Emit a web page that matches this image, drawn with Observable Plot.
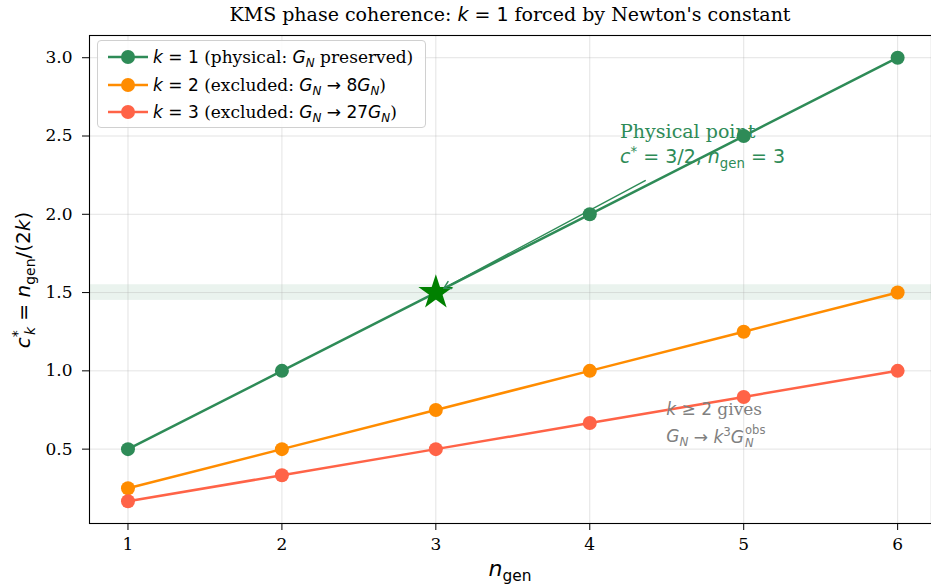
<!DOCTYPE html>
<html>
<head>
<meta charset="utf-8">
<script src="https://cdn.jsdelivr.net/npm/d3@7"></script>
<script src="https://cdn.jsdelivr.net/npm/@observablehq/plot@0.6"></script>
<style>
  body { margin: 0; background: #fff; }
  #wrap { position: relative; width: 931px; height: 587px; overflow: hidden; }
  .m { font-family: "DejaVu Sans", sans-serif; }
  .i { font-style: italic; font-family: "DejaVu Sans", sans-serif; }
  .ov { position: absolute; white-space: nowrap; line-height: 1; }
  sub, sup { font-size: 70%; line-height: 0; }
</style>
</head>
<body>
<div id="wrap"></div>
<script>
// ---- data ----
const nGen = [1, 2, 3, 4, 5, 6];
const k1 = [0.5, 1.0, 1.5, 2.0, 2.5, 3.0];
const k2 = [0.25, 0.5, 0.75, 1.0, 1.25, 1.5];
const k3 = [0.1667, 0.3333, 0.5, 0.6667, 0.8333, 1.0];
const xTicks = [1, 2, 3, 4, 5, 6];
const yTicks = [0.5, 1.0, 1.5, 2.0, 2.5, 3.0];
const starPoint = [{x: 3, y: 1.5}];
const band = [{y1: 1.45, y2: 1.55}];
const arrowData = [{x1: 4.36, y1: 2.215, x2: 3, y2: 1.5}];

const cGreen = "#2e8b57", cOrange = "#ff8c00", cRed = "#ff6347";
const series = [
  {name: "k1", vals: k1, color: cGreen},
  {name: "k2", vals: k2, color: cOrange},
  {name: "k3", vals: k3, color: cRed}
];
const rows = series.flatMap(s => nGen.map((n, i) => ({n, v: s.vals[i], s: s.name})));

const plot = Plot.plot({
  width: 931, height: 587,
  marginLeft: 89, marginRight: 0, marginTop: 35, marginBottom: 64,
  style: {fontFamily: "DejaVu Serif", fontSize: "17px", color: "#000", background: "transparent"},
  x: {domain: [0.75, 6.22], ticks: xTicks, tickFormat: d => String(d), label: null},
  y: {domain: [0.025, 3.142], ticks: yTicks, tickFormat: d3.format(".1f"), label: null},
  color: {domain: ["k1", "k2", "k3"], range: [cGreen, cOrange, cRed]},
  marks: [
    Plot.rect(band, {y1: "y1", y2: "y2", fill: cGreen, fillOpacity: 0.1}),
    Plot.gridX(xTicks, {stroke: "#b0b0b0", strokeOpacity: 0.35, strokeWidth: 1}),
    Plot.gridY(yTicks, {stroke: "#b0b0b0", strokeOpacity: 0.35, strokeWidth: 1}),
    Plot.line(rows, {x: "n", y: "v", z: "s", stroke: "s", strokeWidth: 2.5}),
    Plot.dot(rows, {x: "n", y: "v", fill: "s", r: 7, stroke: null}),
    Plot.dot(starPoint, {x: "x", y: "y", symbol: "star", r: 11, fill: "green"}),
    Plot.arrow(arrowData, {x1: "x1", y1: "y1", x2: "x2", y2: "y2", stroke: cGreen, strokeWidth: 1.5, headLength: 8, insetEnd: 9}),
    Plot.axisX(xTicks, {tickSize: 7, tickPadding: 7, fontSize: 17, tickFormat: d => String(d), label: null}),
    Plot.axisY(yTicks, {tickSize: 7, tickPadding: 10, fontSize: 17, tickFormat: d3.format(".1f"), label: null}),
    Plot.frame({stroke: "#000", strokeWidth: 1.1})
  ]
});

const wrap = document.getElementById("wrap");
wrap.appendChild(plot);
const sx = plot.scale("x"), sy = plot.scale("y");

function ov(html, left, top, style) {
  const d = document.createElement("div");
  d.className = "ov";
  d.innerHTML = html;
  d.style.left = left + "px";
  d.style.top = top + "px";
  Object.assign(d.style, style || {});
  wrap.appendChild(d);
  return d;
}

const GN = '<span class="i">G<sub>N</sub></span>';
const xMid = (sx.apply(0.75) + 931) / 2;

// title
ov('KMS phase coherence: <span class="i">k</span><span class="m"> = 1</span> forced by Newton\'s constant',
   xMid, 5, {transform: "translateX(-50%)", fontFamily: "DejaVu Serif", fontSize: "19px"});

// axis labels
ov('<span class="i">n</span><sub class="m">gen</sub>', xMid, 558,
   {transform: "translateX(-50%)", fontSize: "22px", fontFamily: "DejaVu Sans"});
ov('<span class="i">c</span><sup class="m" style="font-size:70%">*</sup><sub class="i" style="margin-left:-0.35em">k</sub><span class="m"> = </span><span class="i">n</span><sub class="m">gen</sub><span class="m">/(2</span><span class="i">k</span><span class="m">)</span>',
   23, 280, {transform: "translate(-50%,-50%) rotate(-90deg)", fontSize: "20px", fontFamily: "DejaVu Sans"});

// legend
const legItems = [
  {color: cGreen, html: '<span class="i">k</span><span class="m"> = 1</span> (physical: ' + GN + ' preserved)'},
  {color: cOrange, html: '<span class="i">k</span><span class="m"> = 2</span> (excluded: ' + GN + '<span class="m"> → 8</span>' + GN + ')'},
  {color: cRed, html: '<span class="i">k</span><span class="m"> = 3</span> (excluded: ' + GN + '<span class="m"> → 27</span>' + GN + ')'}
];
const leg = document.createElement("div");
Object.assign(leg.style, {position: "absolute", left: "97px", top: "40px", width: "329px", height: "88px",
  border: "1px solid #d0d0d0", borderRadius: "4px", background: "rgba(255,255,255,0.85)", boxSizing: "border-box"});
wrap.appendChild(leg);
legItems.forEach((it, i) => {
  const row = document.createElement("div");
  Object.assign(row.style, {position: "absolute", left: "9px", top: (4 + i * 27.5) + "px", height: "24px",
    display: "flex", alignItems: "center", whiteSpace: "nowrap", fontFamily: "DejaVu Serif", fontSize: "17px"});
  row.innerHTML = '<svg width="42" height="24" style="margin-right:4px;flex:none"><line x1="1" x2="41" y1="12" y2="12" stroke="' + it.color +
    '" stroke-width="2.5"/><circle cx="21" cy="12" r="7" fill="' + it.color + '"/></svg><span>' + it.html + '</span>';
  leg.appendChild(row);
});

// annotations
ov('Physical point<br><span class="i">c</span><sup class="m">*</sup><span class="m"> = 3/2, </span><span class="i">n</span><sub class="m">gen</sub><span class="m"> = 3</span>',
   sx.apply(4.2), sy.apply(2.2) - 63, {color: cGreen, fontFamily: "DejaVu Serif", fontSize: "19px", lineHeight: "1.3"});
ov('<span class="i">k</span><span class="m"> ≥ 2</span> gives',
   sx.apply(4.5), sy.apply(0.55) - 40, {color: "#808080", fontFamily: "DejaVu Serif", fontSize: "17px"});
ov(GN + '<span class="m"> → </span><span class="i">k</span><sup class="m">3</sup><span class="i">G</span><span style="display:inline-block;vertical-align:-0.4em;line-height:1.15;font-size:68%;margin-left:1px"><span class="m" style="display:block">obs</span><span class="i" style="display:block">N</span></span>',
   sx.apply(4.5), sy.apply(0.55) - 17, {color: "#808080", fontFamily: "DejaVu Serif", fontSize: "17px"});
</script>
</body>
</html>
